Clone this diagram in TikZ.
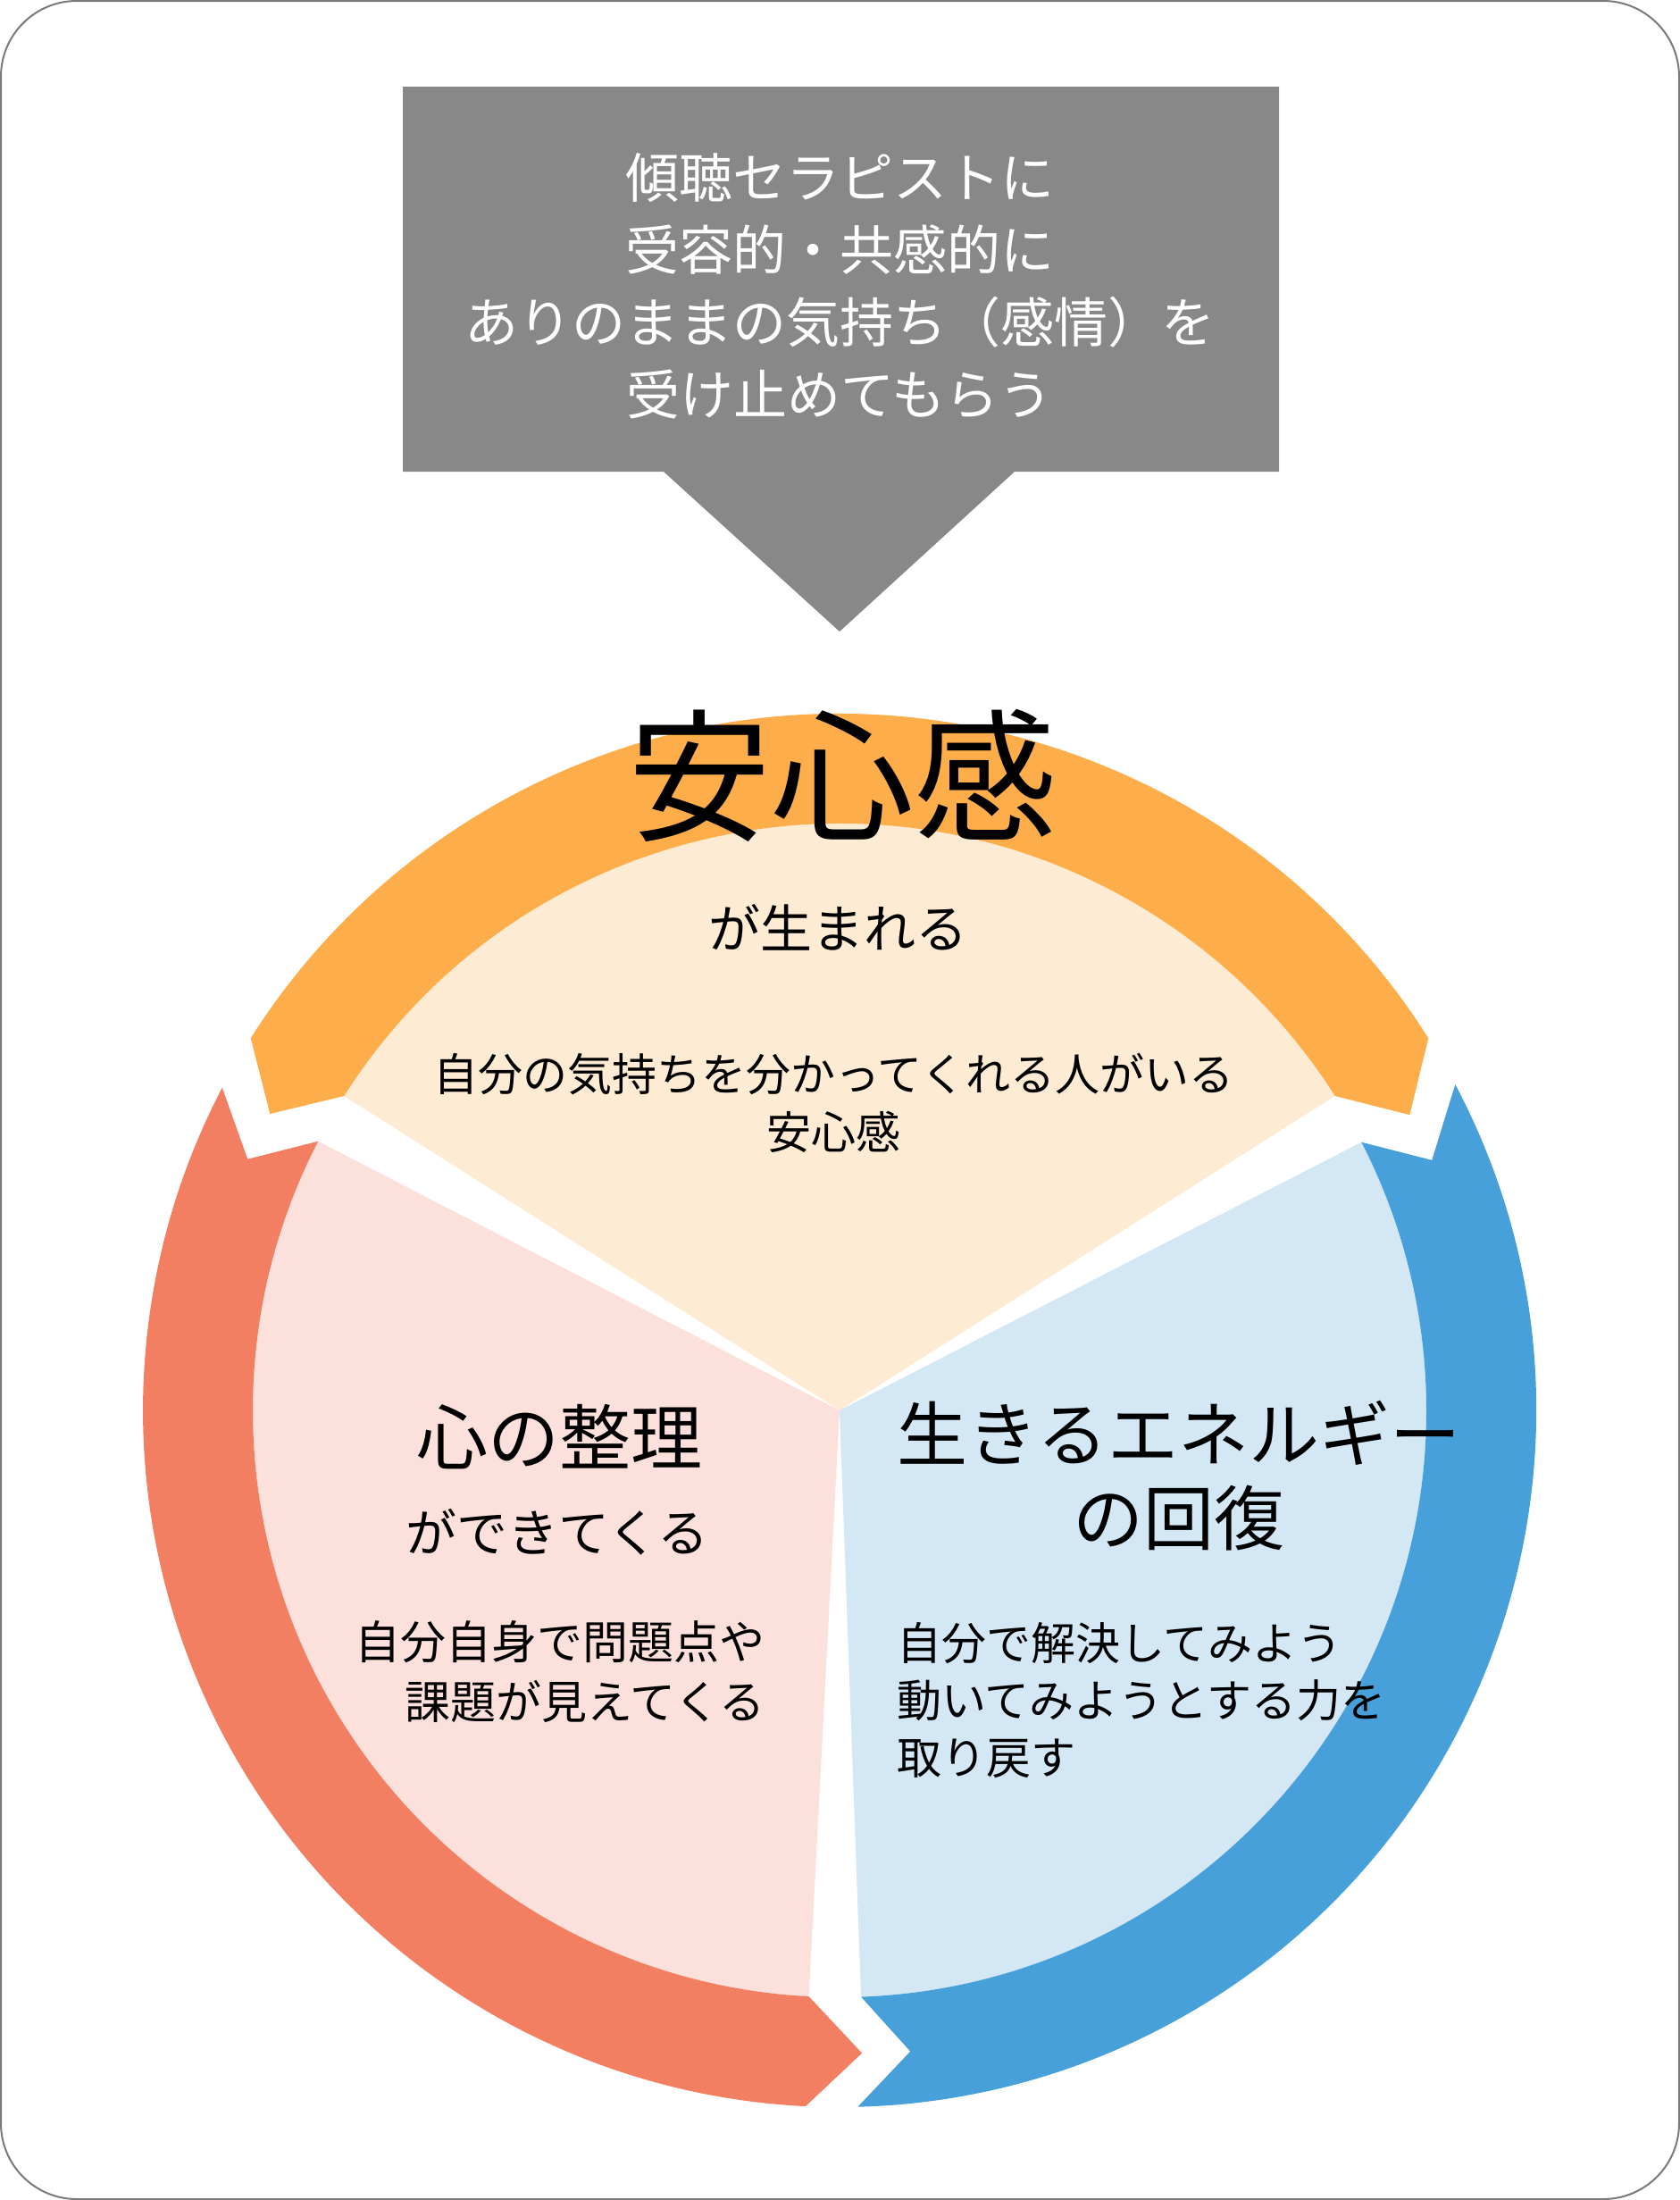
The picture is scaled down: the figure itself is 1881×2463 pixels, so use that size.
\documentclass[tikz,border=0pt]{standalone}
\usepackage{fontspec}
\newfontfamily\jp{Noto Sans CJK JP}
\definecolor{bordercol}{HTML}{7A7A7A}
\definecolor{calloutgray}{HTML}{888888}
\definecolor{orangeD}{HTML}{FDAE4B}
\definecolor{orangeL}{HTML}{FEEBD4}
\definecolor{redD}{HTML}{F37F62}
\definecolor{redL}{HTML}{FCE0DB}
\definecolor{blueD}{HTML}{48A0DB}
\definecolor{blueL}{HTML}{D3E7F5}
\tikzset{
  txt/.style={inner sep=0pt, outer sep=0pt, font=\jp, text=black},
  calltxt/.style={txt, text=white, align=center, font=\jp\fontsize{60}{81}\selectfont},
}
\begin{document}
\begin{tikzpicture}[x=1pt,y=-1pt]
\useasboundingbox (0,0) rectangle (1881,2463);
\draw[bordercol, line width=2pt, rounded corners=85pt] (1,1) rectangle (1880,2462);
% callout
\fill[calloutgray] (451,97) -- (1432,97) -- (1432,528) -- (1136,528) -- (940,707) -- (743,528) -- (451,528) -- cycle;
\node[calltxt] (call) at (940,320) {傾聴セラピストに\\受容的・共感的に\\ありのままの気持ち（感情）を\\受け止めてもらう};
% cycle
\begin{scope}[shift={(940,1579)}, y=1pt]
  \coordinate (C) at (0,0);
  % light wedges
  \fill[orangeL] (C) -- (32.4:657) arc (32.4:147.6:657) -- cycle;
  \fill[redL] (C) -- (152.7:657) arc (152.7:267:657) -- cycle;
  \fill[blueL] (C) -- (272.1:657) arc (272.1:387.2:657) -- cycle;
  % arrows
  \fill[orangeD] (32.3:780) arc (32.3:147.7:780) -- (152.5:719) -- (147.6:657)
     arc (147.6:32.4:657) -- (27.4:719) -- cycle;
  \fill[redD] (152.4:780) -- (157:720) -- (152.7:657) arc (152.7:267:657)
     -- (272:720) -- (267.2:780) arc (267.2:152.4:780) -- cycle;
  \fill[blueD] (271.5:780) -- (276.3:722) -- (272.1:657) arc (272.1:387.2:657)
     -- (382.9:720) -- (387.9:780) arc (387.9:271.5:780) -- cycle;
\end{scope}
% texts top
\node[txt, font=\jp\fontsize{160}{160}\selectfont] (t1) at (943,868) {安心感};
\node[txt, font=\jp\fontsize{58}{58}\selectfont] (t2) at (938,1038) {が生まれる};
\node[txt, align=center, font=\jp\fontsize{50}{65}\selectfont] (t3) at (933,1235) {自分の気持ちを分かってくれる人がいる\\安心感};
% left
\node[txt, font=\jp\fontsize{80}{80}\selectfont] (l1) at (626,1609) {心の整理};
\node[txt, font=\jp\fontsize{57}{57}\selectfont] (l2) at (624,1715) {ができてくる};
\node[txt, align=right, anchor=east, font=\jp\fontsize{51}{67}\selectfont] (l3) at (856,1872) {自分自身で問題点や\\課題が見えてくる};
% right
\node[txt, align=center, font=\jp\fontsize{79}{94}\selectfont] (r1) at (1320,1652) {生きるエネルギー\\の回復};
\node[txt, align=left, anchor=west, font=\jp\fontsize{50}{64}\selectfont] (r2) at (1004,1903) {自分で解決してみよう\\動いてみようとする力を\\取り戻す};
\end{tikzpicture}
\end{document}
